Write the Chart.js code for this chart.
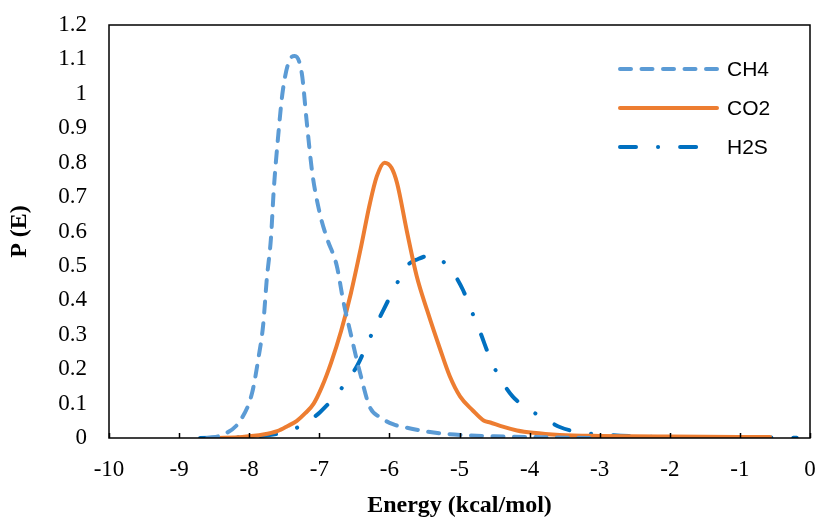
<!DOCTYPE html>
<html>
<head>
<meta charset="utf-8">
<script src="https://cdn.jsdelivr.net/npm/chart.js@4.4.1/dist/chart.umd.min.js"></script>
<style>
  html, body { margin: 0; padding: 0; background: #fff; }
  #wrap { width: 817px; height: 518px; }
</style>
</head>
<body>
<div id="wrap"><canvas id="chart" width="817" height="518"></canvas></div>
<script>
// ---- data (energy in kcal/mol, P(E)) ----
const ch4E = [-8.6, -8.37, -8.13, -7.96, -7.87, -7.80, -7.75, -7.69, -7.65, -7.59, -7.52, -7.42, -7.35, -7.25, -7.18, -7.10, -6.99, -6.89, -6.75, -6.66, -6.56, -6.42, -6.28, -6.13, -5.95, -5.75, -5.5, -5.2, -4.9, -4.5, -4.0, -3.5, -3.1];
const ch4P = [0, 0.01, 0.05, 0.13, 0.23, 0.33, 0.46, 0.58, 0.72, 0.87, 1.01, 1.10, 1.11, 1.06, 0.92, 0.77, 0.65, 0.58, 0.50, 0.40, 0.31, 0.19, 0.09, 0.06, 0.04, 0.03, 0.02, 0.012, 0.008, 0.005, 0.003, 0.001, 0];

const co2E = [-8.5, -8.1, -7.8, -7.6, -7.45, -7.32, -7.2, -7.08, -6.96, -6.83, -6.69, -6.55, -6.41, -6.28, -6.18, -6.07, -5.97, -5.89, -5.75, -5.61, -5.46, -5.28, -5.14, -4.99, -4.81, -4.65, -4.56, -4.42, -4.18, -3.95, -3.57, -3.0, -2.0, -1.0, -0.57];
const co2P = [0, 0.003, 0.01, 0.02, 0.035, 0.05, 0.072, 0.1, 0.15, 0.22, 0.31, 0.42, 0.55, 0.68, 0.76, 0.80, 0.785, 0.74, 0.60, 0.47, 0.37, 0.26, 0.18, 0.12, 0.08, 0.05, 0.045, 0.035, 0.022, 0.015, 0.009, 0.006, 0.004, 0.003, 0.003];

const h2sE = [-8.7, -8.2, -7.9, -7.6, -7.32, -7.15, -6.99, -6.70, -6.46, -6.28, -6.09, -5.89, -5.75, -5.59, -5.42, -5.28, -5.09, -4.95, -4.85, -4.71, -4.54, -4.38, -4.24, -4.04, -3.75, -3.57, -3.3, -2.9, -2.5, -2.0, -1.0, -0.19];
const h2sP = [0, 0.002, 0.005, 0.012, 0.03, 0.05, 0.075, 0.14, 0.21, 0.29, 0.37, 0.45, 0.50, 0.52, 0.53, 0.52, 0.48, 0.43, 0.38, 0.31, 0.22, 0.16, 0.12, 0.087, 0.052, 0.032, 0.017, 0.009, 0.005, 0.003, 0.002, 0.001];

const seriesNames = ['CH4', 'CO2', 'H2S'];

const pts = (xs, ys) => xs.map((x, i) => ({ x, y: ys[i] }));

const serif = '"Liberation Serif", "Times New Roman", serif';
const sans = '"Liberation Sans", Arial, sans-serif';

// no automatic label overhang padding: layout.padding decides the plot box
const noPad = s => { s.paddingTop = s.paddingBottom = s.paddingLeft = s.paddingRight = 0; };

// frame around the plot + inward x ticks
const framePlugin = {
  id: 'frame',
  afterDraw(chart) {
    const { ctx, chartArea: a, scales } = chart;
    ctx.save();
    ctx.strokeStyle = '#000';
    ctx.lineWidth = 1.5;
    ctx.strokeRect(a.left, a.top, a.right - a.left, a.bottom - a.top);
    ctx.beginPath();
    scales.x.ticks.forEach(t => {
      const px = Math.round(scales.x.getPixelForValue(t.value)) + 0.5;
      ctx.moveTo(px, a.bottom);
      ctx.lineTo(px, a.bottom - 5);
    });
    ctx.stroke();
    ctx.restore();
  }
};

// legend inside the plot, upper right
const legendPlugin = {
  id: 'insideLegend',
  afterDraw(chart) {
    const { ctx } = chart;
    const x0 = 620, x1 = 717, rows = [69, 108, 147];
    ctx.save();
    chart.data.datasets.forEach((ds, i) => {
      const y = rows[i];
      ctx.beginPath();
      ctx.strokeStyle = ds.borderColor;
      ctx.lineWidth = ds.borderWidth;
      ctx.lineCap = ds.borderCapStyle;
      ctx.setLineDash(ds.borderDash || []);
      ctx.moveTo(x0, y);
      ctx.lineTo(x1, y);
      ctx.stroke();
      ctx.setLineDash([]);
      ctx.fillStyle = '#000';
      ctx.font = '21px ' + sans;
      ctx.textBaseline = 'middle';
      ctx.fillText(ds.label, 727, y + 1);
    });
    ctx.restore();
  }
};

new Chart(document.getElementById('chart'), {
  type: 'scatter',
  data: {
    datasets: [
      { label: seriesNames[0], data: pts(ch4E, ch4P), borderColor: '#5B9BD5', borderWidth: 4,
        borderDash: [11, 10.5], borderCapStyle: 'round' },
      { label: seriesNames[1], data: pts(co2E, co2P), borderColor: '#ED7D31', borderWidth: 4,
        borderCapStyle: 'round' },
      { label: seriesNames[2], data: pts(h2sE, h2sP), borderColor: '#0070C0', borderWidth: 4,
        borderDash: [16, 22, 0.1, 22], borderCapStyle: 'round' },
    ].map(d => ({ ...d, showLine: true, pointRadius: 0, pointHoverRadius: 0, fill: false,
                  cubicInterpolationMode: 'monotone', borderJoinStyle: 'round' })),
  },
  options: {
    responsive: false, animation: false,
    layout: { padding: { top: 25, right: 7, left: 0, bottom: 0 } },
    plugins: { legend: { display: false }, tooltip: { enabled: false } },
    scales: {
      x: {
        type: 'linear', min: -10, max: 0,
        ticks: { stepSize: 1, color: '#000', padding: 18, font: { family: serif, size: 23 } },
        grid: { display: false, drawTicks: false },
        border: { display: false },
        title: { display: true, text: 'Energy (kcal/mol)', color: '#000', padding: 0,
                 font: { family: serif, size: 24, weight: 'bold', lineHeight: 1.0 } },
        afterFit: s => { s.height = 80; noPad(s); },
      },
      y: {
        min: 0, max: 1.2,
        ticks: { stepSize: 0.1, color: '#000', padding: 22, font: { family: serif, size: 23 },
                 callback: v => +v.toFixed(1) },
        grid: { display: false, drawTicks: false },
        border: { display: false },
        title: { display: true, text: 'P (E)', color: '#000', padding: { top: 7, bottom: 0 },
                 font: { family: serif, size: 24, weight: 'bold', lineHeight: 1.1 } },
        afterFit: s => { s.width = 109; noPad(s); },
      },
    },
  },
  plugins: [framePlugin, legendPlugin],
});
</script>
</body>
</html>
